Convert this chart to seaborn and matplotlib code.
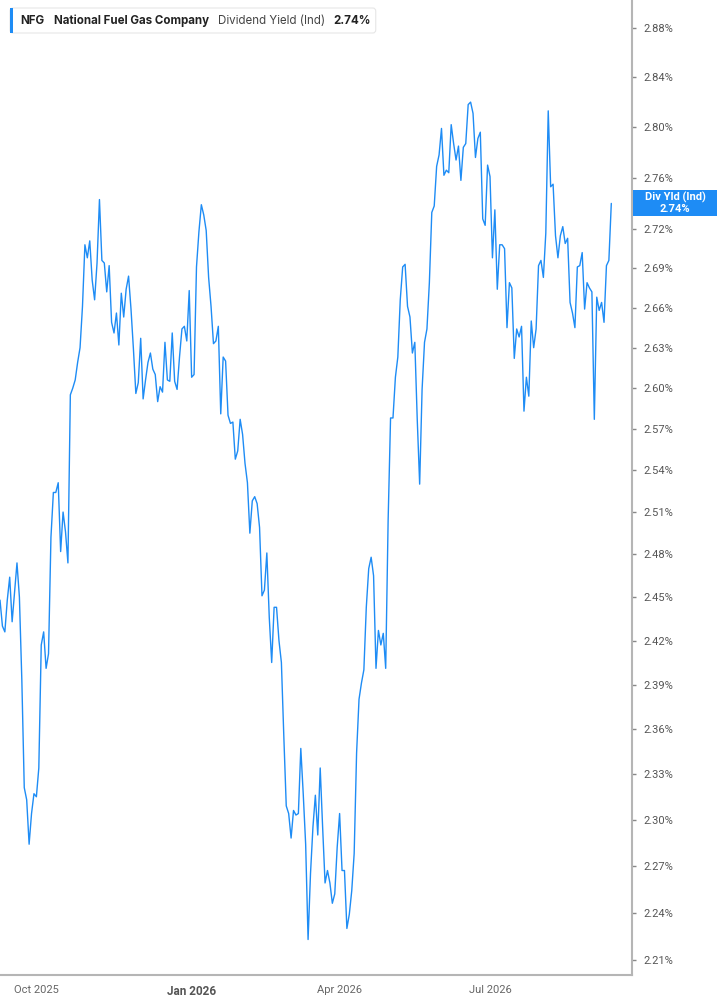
import numpy as np
import pandas as pd
import seaborn as sns
import matplotlib
matplotlib.use("Agg")
import matplotlib.pyplot as plt
from matplotlib.patches import Rectangle, FancyBboxPatch
from matplotlib.transforms import IdentityTransform
from matplotlib.ticker import NullLocator

# dividend yield (%) per trading day
yld_sep_oct = [2.448, 2.430, 2.426, 2.448, 2.464, 2.433, 2.453, 2.474, 2.450, 2.393,
               2.321, 2.313, 2.284, 2.304, 2.317, 2.315, 2.334, 2.417, 2.426, 2.401,
               2.411, 2.492, 2.524, 2.524, 2.531, 2.482, 2.510, 2.496, 2.474]
yld_oct_nov = [2.595, 2.600, 2.606, 2.619, 2.630, 2.661, 2.708, 2.698, 2.711, 2.681,
               2.666, 2.694, 2.743, 2.696, 2.694, 2.672, 2.692, 2.649, 2.641, 2.656,
               2.632]
yld_nov_feb = [2.671, 2.653, 2.674, 2.684, 2.659, 2.629, 2.596, 2.604, 2.637, 2.592,
               2.606, 2.619, 2.626, 2.614, 2.610, 2.590, 2.601, 2.597, 2.634, 2.606,
               2.605, 2.641, 2.605, 2.599, 2.623, 2.644, 2.646, 2.635, 2.673, 2.608,
               2.610, 2.691, 2.718, 2.739, 2.731, 2.719, 2.683, 2.661, 2.633, 2.635,
               2.646, 2.581, 2.623, 2.620, 2.580, 2.574, 2.575, 2.548, 2.554, 2.577,
               2.566, 2.545, 2.531]
yld_feb_apr = [2.495, 2.518, 2.521, 2.516, 2.499, 2.451, 2.455, 2.481, 2.436, 2.405,
               2.443, 2.443, 2.420, 2.405, 2.355, 2.309, 2.304, 2.288, 2.306, 2.303,
               2.304, 2.347, 2.317, 2.284, 2.223, 2.265, 2.295, 2.316, 2.290, 2.334,
               2.295, 2.259, 2.267, 2.259, 2.246, 2.252, 2.282, 2.304, 2.267, 2.267,
               2.230, 2.239, 2.254, 2.278, 2.344, 2.380, 2.391, 2.400, 2.443, 2.470,
               2.478]
yld_apr_may = [2.465, 2.401, 2.427, 2.417, 2.425, 2.401, 2.504]
yld_may_jul = [2.578, 2.578, 2.608, 2.623, 2.666, 2.691, 2.693, 2.661, 2.653, 2.626,
               2.634, 2.577, 2.530, 2.599, 2.634, 2.644, 2.679, 2.733, 2.738, 2.769,
               2.778, 2.799, 2.762, 2.766, 2.764, 2.802, 2.787, 2.774, 2.785, 2.758,
               2.784, 2.787, 2.818, 2.820, 2.811, 2.776, 2.791, 2.796, 2.728, 2.723,
               2.770, 2.761]
yld_jul_sep = [2.698, 2.735, 2.674, 2.708, 2.708, 2.705, 2.645, 2.679, 2.675, 2.622,
               2.644, 2.638, 2.646, 2.583, 2.608, 2.594, 2.650, 2.630, 2.644, 2.692,
               2.696, 2.683, 2.717, 2.813, 2.753, 2.755, 2.715, 2.698, 2.715, 2.722,
               2.709, 2.713, 2.664, 2.656, 2.645, 2.691, 2.692, 2.702, 2.659, 2.679,
               2.675, 2.672, 2.577, 2.668, 2.658, 2.664, 2.649, 2.692, 2.696, 2.740]

yld = yld_sep_oct + yld_oct_nov + yld_nov_feb + yld_feb_apr + yld_apr_may + yld_may_jul + yld_jul_sep

# exchange holidays in the window, the chart spaces trading days evenly
market_holidays = ["2025-11-27", "2025-12-25", "2026-01-01", "2026-01-19", "2026-02-16",
                   "2026-04-03", "2026-05-25", "2026-06-19", "2026-07-03", "2026-09-07"]
start_day = "2025-09-10"
trading_days = pd.date_range(start_day, periods=len(yld),
                             freq=pd.offsets.CustomBusinessDay(holidays=market_holidays))

y_ticks = [2.21, 2.24, 2.27, 2.30, 2.33, 2.36, 2.39, 2.42, 2.45, 2.48, 2.51,
           2.54, 2.57, 2.60, 2.63, 2.66, 2.69, 2.72, 2.76, 2.80, 2.84, 2.88]
x_tick_days = ["2025-10-01", "2026-01-01", "2026-04-01", "2026-07-01"]
x_tick_labels = ["Oct 2025", "Jan 2026", "Apr 2026", "Jul 2026"]
last_yld = 2.74

W, H = 717, 1005
blue = "#1e8cf5"
grey_axis = "#b5b5b5"

df = pd.DataFrame({"day": trading_days, "yield": yld})
df["session"] = np.arange(len(df))

sns.set_style("white")
plt.rcParams["font.family"] = ["Roboto", "DejaVu Sans"]

fig = plt.figure(figsize=(W / 100, H / 100), dpi=100)
ax = fig.add_axes([0, 1 - 975 / H, 632 / W, 975 / H])

sns.lineplot(data=df, x="session", y="yield", ax=ax, color=blue, linewidth=1.0)

ax.set_yscale("log")
ax.set_ylim(2.2007, 2.903)
ax.set_xlim(0, (len(df) - 1) * 632 / 611.3)
ax.yaxis.tick_right()
ax.set_yticks(y_ticks)
ax.set_yticklabels([f"{t:.2f}%" for t in y_ticks])
ax.yaxis.set_minor_locator(NullLocator())
ax.tick_params(axis="y", which="major", length=3, width=1, color="#888888",
               pad=5, labelsize=8, labelcolor="#555555")

tick_pos = df["day"].searchsorted(pd.to_datetime(x_tick_days))
ax.set_xticks(tick_pos)
ax.set_xticklabels(x_tick_labels)
ax.xaxis.set_minor_locator(NullLocator())
ax.tick_params(axis="x", which="major", length=4, width=1, color=grey_axis,
               pad=3, labelsize=8, labelcolor="#666666")
for lab in ax.get_xticklabels():
    if lab.get_text().startswith("Jan"):
        lab.set_fontweight("bold")
        lab.set_fontsize(8.5)
        lab.set_color("#555555")

for side in ["left", "top"]:
    ax.spines[side].set_visible(False)
for side in ["right", "bottom"]:
    ax.spines[side].set_color(grey_axis)
    ax.spines[side].set_linewidth(1.5)
ax.set_xlabel("")
ax.set_ylabel("")
ax.grid(False)

# legend header at top left
renderer = fig.canvas.get_renderer()
parts = [("NFG", "bold", "#222222", 10),
         ("National Fuel Gas Company", "bold", "#222222", 9),
         ("Dividend Yield (Ind)", "normal", "#444444", 8),
         (f"{last_yld:.2f}%", "bold", "#222222", 0)]
x_px = 20
for txt, wt, col, gap in parts:
    t = fig.text(x_px / W, 1 - 21 / H, txt, fontsize=8.3, fontweight=wt, color=col,
                 va="center", ha="left", family=["Inter", "DejaVu Sans"], zorder=5)
    bb = t.get_window_extent(renderer)
    x_px = bb.x1 + gap
box = FancyBboxPatch((10, H - 33), x_px + 5 - 10, 25, boxstyle="round,pad=0,rounding_size=3",
                     transform=IdentityTransform(), facecolor="white", edgecolor="#e6e6e6",
                     linewidth=0.8, zorder=4)
fig.add_artist(box)
fig.add_artist(Rectangle((10, H - 33), 3, 25, transform=IdentityTransform(),
                         facecolor=blue, edgecolor="none", zorder=6))

# last value tag on the right axis
y_last = ax.transData.transform((ax.get_xlim()[1], last_yld))[1]
fig.add_artist(Rectangle((633, y_last - 13), W - 633, 26, transform=IdentityTransform(),
                         facecolor=blue, edgecolor="none", zorder=6))
fig.text(675 / W, (y_last + 6) / H, "Div Yld (Ind)", color="white", fontsize=8,
         fontweight="bold", ha="center", va="center", zorder=7)
fig.text(675 / W, (y_last - 6) / H, f"{last_yld:.2f}%", color="white", fontsize=8,
         fontweight="bold", ha="center", va="center", zorder=7)

fig.savefig("out.png", dpi=100)
